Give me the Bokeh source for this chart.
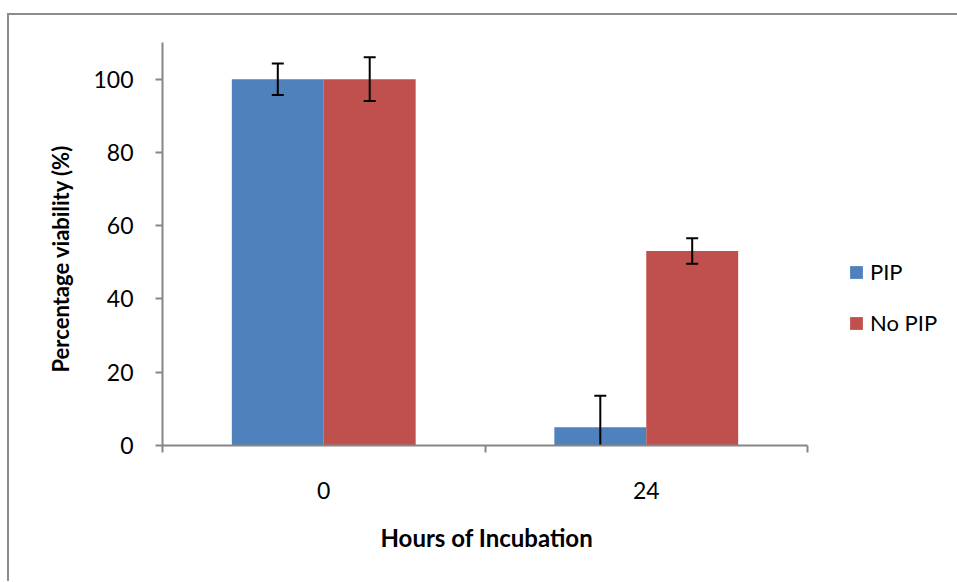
from bokeh.plotting import figure
from bokeh.models import FixedTicker, Legend, LegendItem, ColumnDataSource, Range1d, Title
from bokeh.layouts import column
from bokeh.embed import file_html
from bokeh.resources import INLINE

hours = ["0", "24"]
pip_vals = [100.0, 5.0]
pip_err = [4.3, 8.6]
nopip_vals = [100.0, 53.1]
nopip_err = [6.0, 3.5]
series_names = ["PIP", "No PIP"]
colors = ["#4F81BD", "#C0504D"]
y_ticks = [0, 20, 40, 60, 80, 100]

FONT = "Lato"
bar_w = 0.285
n = len(hours)
# frame extends to the right so the legend fits inside it; the axis stops at n
x_end = n * 789 / 645.0

p = figure(width=952, height=566, output_backend="svg", toolbar_location=None,
           x_range=Range1d(0, x_end), y_range=Range1d(0, 110),
           min_border_left=153, min_border_right=10, min_border_top=27, min_border_bottom=136)
p.outline_line_color = None
p.xgrid.visible = False
p.ygrid.visible = False
p.background_fill_color = "white"
p.border_fill_color = "white"

centers = [i + 0.5 for i in range(n)]
renderers = []
for k, (vals, errs) in enumerate([(pip_vals, pip_err), (nopip_vals, nopip_err)]):
    off = (k - 0.5) * bar_w
    xs = [c + off for c in centers]
    src = ColumnDataSource(dict(x=xs, top=vals,
                                up=[v + e for v, e in zip(vals, errs)],
                                lo=[v - e for v, e in zip(vals, errs)]))
    r = p.vbar(x="x", top="top", width=bar_w, bottom=0, source=src,
               fill_color=colors[k], line_color=None)
    renderers.append(r)
    p.segment(x0="x", x1="x", y0="lo", y1="up", source=src, line_color="black", line_width=2)
    p.scatter(x="x", y="up", marker="dash", size=12, line_width=2, line_color="black", source=src)
    p.scatter(x="x", y="lo", marker="dash", size=12, line_width=2, line_color="black", source=src)

# axes
ax = p.xaxis[0]
ax.bounds = (0, n)
ax.ticker = FixedTicker(ticks=centers, minor_ticks=list(range(n + 1)))
ax.major_label_overrides = {c: h for c, h in zip(centers, hours)}
ax.major_tick_out = 0
ax.major_tick_in = 0
ax.minor_tick_out = 7
ax.minor_tick_in = 0
ax.minor_tick_line_color = "#868686"
ax.minor_tick_line_width = 2
ax.axis_line_color = "#868686"
ax.axis_line_width = 2
ax.major_label_standoff = 29
ax.major_label_text_font = FONT
ax.major_label_text_font_size = "23px"
ax.major_label_text_color = "black"

ay = p.yaxis[0]
ay.ticker = FixedTicker(ticks=y_ticks)
ay.minor_tick_line_color = None
ay.major_tick_out = 7
ay.major_tick_in = 0
ay.major_tick_line_color = "#868686"
ay.major_tick_line_width = 2
ay.axis_line_color = "#868686"
ay.axis_line_width = 2
ay.major_label_standoff = 22
ay.major_label_text_font = FONT
ay.major_label_text_font_size = "23px"
ay.major_label_text_color = "black"

ytitle = Title(text="Percentage viability (%)", align="left", offset=73,
               text_font=FONT, text_font_style="bold", text_font_size="22px", text_color="black")
try:
    ytitle.standoff = 34
except Exception:
    pass
p.add_layout(ytitle, "left")

xtitle = Title(text="Hours of Incubation", align="left", offset=218,
               text_font=FONT, text_font_style="bold", text_font_size="24px", text_color="black")
try:
    xtitle.standoff = 39
except Exception:
    pass
p.add_layout(xtitle, "below")

legend = Legend(items=[LegendItem(label=s, renderers=[r]) for s, r in zip(series_names, renderers)],
                location=(686, 109), orientation="vertical",
                label_text_font=FONT, label_text_font_size="22px", label_text_color="black",
                glyph_width=16, glyph_height=16, label_height=24, spacing=24,
                border_line_color=None, background_fill_alpha=0, padding=0, margin=0,
                label_standoff=6)
p.add_layout(legend, "center")

layout = column(p, styles={"border-left": "2px solid #8c8c8c", "border-top": "2px solid #8c8c8c",
                           "margin-left": "7px", "margin-top": "13px"})

open("out.html", "w").write(file_html(layout, INLINE))
